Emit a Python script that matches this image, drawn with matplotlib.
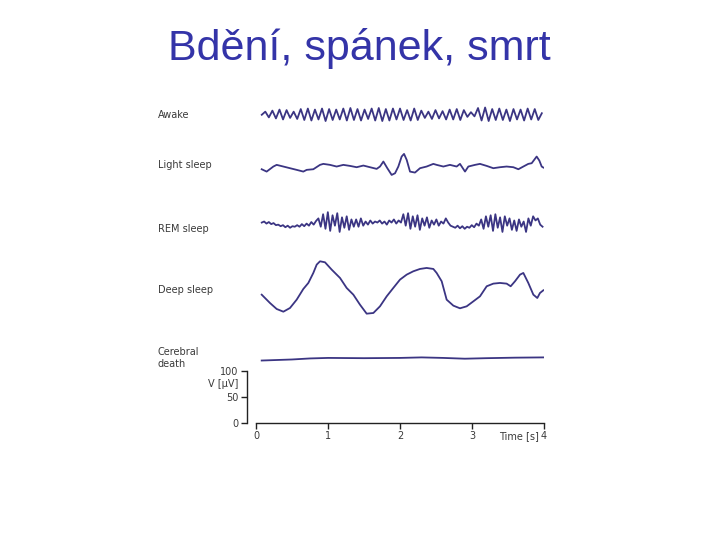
import matplotlib
matplotlib.use("Agg")
import matplotlib.pyplot as plt
import numpy as np

# EEG traces, amplitudes in uV (relative to each trace's own baseline)
awake_t = (0.08, 3.97)
awake = [0, 6, -5, 8, -7, 10, -9, 9, -6, 6,
         -8, 11, -10, 12, -11, 10, -9, 12, -12, 11,
         -10, 10, -9, 12, -11, 13, -10, 11, -11, 10,
         -8, 12, -11, 13, -12, 11, -11, 12, -9, 12,
         -10, 9, -11, 12, -10, 8, -6, 6, -8, 9,
         -7, 7, -9, 10, -9, 11, -10, 9, -4, 5,
         -3, 13, -11, 14, -12, 11, -10, 12, -10, 10,
         -12, 11, -9, 10, -11, 12, -9, 11, -10, 3]

light_t = [0.079, 0.148, 0.241, 0.287, 0.380, 0.472, 0.565, 0.657, 0.704, 0.796,
           0.889, 0.935, 1.028, 1.120, 1.213, 1.306, 1.398, 1.491, 1.583, 1.676,
           1.722, 1.769, 1.824, 1.884, 1.931, 1.977, 2.023, 2.056, 2.093, 2.139,
           2.208, 2.278, 2.370, 2.463, 2.509, 2.602, 2.694, 2.787, 2.833, 2.903,
           2.949, 3.042, 3.111, 3.204, 3.296, 3.389, 3.481, 3.574, 3.644, 3.713,
           3.782, 3.829, 3.898, 3.935, 3.968, 3.991]
light = [-2.6, -7.1, 2.6, 5.8, 2.6, -0.6, -3.8, -7.1, -3.8, -2.6,
         5.8, 7.7, 5.8, 2.6, 5.8, 3.8, 1.3, 4.5, 1.3, -1.9,
         2.6, 12.2, -0.6, -13.5, -10.3, 2.6, 21.8, 26.9, 15.4, -7.1,
         -9.0, -0.6, 2.6, 7.7, 5.8, 2.6, 5.8, 2.6, 7.7, -7.1,
         2.6, 5.8, 7.7, 3.8, -0.6, 1.3, 2.6, 1.3, -2.6, 2.6,
         7.7, 9.0, 21.8, 14.1, 2.6, 0.6]

rem_t = (0.08, 3.98)
rem = [2, 4, 0, 3, -1, 1, -3, -2, -5, -3, -7, -4, -8, -5, -6, -3,
       -6, -1, -5, 0, -4, 3, -2, 5,
       10, -6, 18, -10, 22, -14, 16, -4, 20, -16, 12, -8, 14, -12, 8, -6,
       8, -6, 10, -4, 4, -2, 6, 0, 4, 2, 6, 0, 4, -2, 6, 2, 8, 0, 6, 2,
       18, -4, 20, -10, 14, -6, 16, -12, 10, -4, 12, -8, 6, -2, 8, -4, 4, 0,
       10, 2, -4, -6, -8, -4, -9, -5, -10, -6, -8, -3, -7, 0, -4,
       8, -10, 14, -6, 16, -14, 18, -8, 12, -16, 14, -4, 10, -12, 6, -14,
       8, -6, 4, -16, 10, -4, 14, 6, 10, -2,
       -6]

deep_t = [0.079, 0.194, 0.287, 0.380, 0.472, 0.565, 0.657, 0.727, 0.796, 0.843,
          0.889, 0.958, 1.051, 1.167, 1.259, 1.352, 1.444, 1.537, 1.630, 1.722,
          1.815, 1.907, 2.000, 2.093, 2.185, 2.278, 2.370, 2.463, 2.509, 2.579,
          2.648, 2.741, 2.833, 2.926, 3.019, 3.111, 3.204, 3.296, 3.389, 3.481,
          3.537, 3.597, 3.667, 3.713, 3.782, 3.852, 3.907, 3.944, 3.991]
deep = [-13.5, -29.5, -41.0, -46.2, -39.1, -23.1, -2.6, 9.0, 28.2, 44.2,
        50.6, 48.7, 34.6, 18.6, -0.6, -13.5, -32.7, -50.0, -48.7, -35.9,
        -16.7, -0.6, 15.4, 25.0, 31.4, 35.9, 37.8, 35.9, 28.2, 12.2,
        -23.1, -34.6, -39.7, -35.9, -26.3, -16.7, 2.6, 7.7, 9.0, 7.7,
        2.6, 12.2, 25.0, 28.2, 9.0, -13.5, -19.9, -10.3, -5.1]

death_t = [0.079, 0.5, 0.75, 1.0, 1.5, 2.0, 2.3, 2.6, 2.9, 3.2, 3.6, 3.99]
death = [-5, -3, -1, 0, -0.5, 0, 1, 0, -1.5, -0.5, 0.5, 1]

labels = ["Awake", "Light sleep", "REM sleep", "Deep sleep", "Cerebral\ndeath"]
baselines = [592, 490, 383, 260, 125]   # vertical offset of each trace (uV)

line_color = "#3b3583"
text_color = "#3a3a3a"

fig = plt.figure(figsize=(7.2, 5.4), dpi=100)
ax = fig.add_axes([247 / 720, 1 - 423 / 540, (544 - 247) / 720, (423 - 95) / 540])

traces = [
    (np.linspace(*awake_t, len(awake)), awake),
    (light_t, light),
    (np.linspace(*rem_t, len(rem)), rem),
    (deep_t, deep),
    (death_t, death),
]
for (t, v), base in zip(traces, baselines):
    ax.plot(t, np.asarray(v) + base, color=line_color, lw=1.3, solid_joinstyle="round")

ax.set_xlim(-0.125, 4.0)
ax.set_ylim(0, 630)
for s in ["top", "right"]:
    ax.spines[s].set_visible(False)
ax.spines["left"].set_bounds(0, 100)
ax.spines["bottom"].set_bounds(0, 4)
for s in ["left", "bottom"]:
    ax.spines[s].set_linewidth(1.0)
    ax.spines[s].set_color("#222222")
ax.set_xticks([0, 1, 2, 3, 4])
ax.set_yticks([0, 50, 100])
ax.tick_params(length=4, width=1.0, color="#222222", labelsize=7, labelcolor=text_color, pad=2)

# side labels
label_y = [115, 165, 229, 290, 358]
for lab, py in zip(labels, label_y):
    fig.text(158 / 720, 1 - py / 540, lab, fontsize=7, color=text_color, va="center", ha="left")

fig.text(238 / 720, 1 - 384 / 540, "V [\u00b5V]", fontsize=7, color=text_color, ha="right", va="center")
fig.text(539 / 720, 1 - 436 / 540, "Time [s]", fontsize=7, color=text_color, ha="right", va="center")

fig.text(0.499, 1 - 60 / 540, "Bdění, spánek, smrt", fontsize=31, color="#3434a8",
         family=["Liberation Sans", "DejaVu Sans"], ha="center", va="baseline")

fig.savefig("out.png", dpi=100, facecolor="white")
